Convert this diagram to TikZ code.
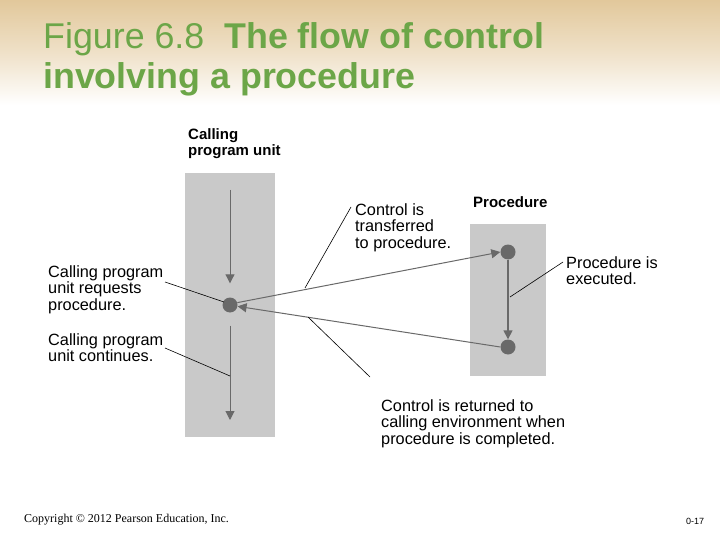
\documentclass[tikz,border=0pt]{standalone}
\usepackage{fontspec}
\setmainfont{Liberation Sans}
\newfontfamily\serifcopy{Liberation Serif}
\usetikzlibrary{arrows.meta}
\definecolor{hdrtan}{RGB}{226,200,155}
\definecolor{ttlgreen}{RGB}{108,166,72}
\definecolor{barg}{RGB}{201,201,201}
\definecolor{arrg}{RGB}{105,105,105}
\tikzset{
  lbl/.style={anchor=north west, inner sep=0pt, align=left, font=\fontsize{16.3}{16.5}\selectfont},
  hdr/.style={anchor=north west, inner sep=0pt, align=left, font=\bfseries\fontsize{15}{16}\selectfont},
  bar/.style={fill=barg, draw=none},
  dot/.style={circle, fill=arrg, inner sep=0pt, minimum size=15pt},
  arr/.style={draw=arrg, line width=1pt, -{Triangle[width=9pt,length=9pt]}},
  leader/.style={draw=black, line width=0.6pt}
}
\begin{document}
\begin{tikzpicture}[x=1pt,y=-1pt]
\useasboundingbox (0,0) rectangle (720,540);
\fill[white] (0,0) rectangle (720,540);
\shade[top color=hdrtan, bottom color=white, middle color=hdrtan!55!white] (0,0) rectangle (720,105);
% title
\node[anchor=base west, inner sep=0pt, text=ttlgreen, font=\fontsize{35.8}{40}\selectfont, align=left] (title) at (43,89)
  {Figure 6.8\ \ \textbf{The flow of control}\\\textbf{involving a procedure}};
% bars
\fill[bar] (185,173) rectangle (275,437);
\fill[bar] (470,224) rectangle (546,376);
% headers
\node[hdr] (hcall) at (188,128) {Calling\\program unit};
\node[hdr] (hproc) at (473,196) {Procedure};
% dots
\node[dot] (L) at (230,305) {};
\node[dot] (P1) at (508,252) {};
\node[dot] (P2) at (508,347) {};
\coordinate (a1) at (230,190);
\coordinate (a2) at (230,420);
% arrows
\draw[arr, shorten >=14pt] (a1) -- (L);
\draw[arr, shorten <=13pt] (L) -- (a2);
\draw[arr, line width=1.6pt] (P1) -- (P2);
\draw[arr] (L.18) -- (P1.west);
\draw[arr] (P2.west) -- (L.-10);
% labels
\node[lbl] (t1) at (48,265) {Calling program\\unit requests\\procedure.};
\node[lbl] (t2) at (48,333) {Calling program\\unit continues.};
\node[lbl] (t3) at (355,203) {Control is\\transferred\\to procedure.};
\node[lbl] (t4) at (566,256) {Procedure is\\executed.};
\node[lbl] (t5) at (381,399) {Control is returned to\\calling environment when\\procedure is completed.};
% leader lines
\coordinate (l1a) at (165,282); \coordinate (l1b) at (224,302);
\coordinate (l2a) at (165,348); \coordinate (l2b) at (230,376);
\coordinate (l3a) at (351,207); \coordinate (l3b) at (305,288);
\coordinate (l4a) at (563,262); \coordinate (l4b) at (510,297);
\coordinate (l5a) at (370,377); \coordinate (l5b) at (308,317);
\draw[leader] (l1a) -- (l1b);
\draw[leader] (l2a) -- (l2b);
\draw[leader] (l3a) -- (l3b);
\draw[leader] (l4a) -- (l4b);
\draw[leader] (l5a) -- (l5b);
% footer
\node[anchor=base west, inner sep=0pt, font=\serifcopy\fontsize{12}{14}\selectfont] (copy) at (24,522) {Copyright \textcopyright{} 2012 Pearson Education, Inc.};
\node[anchor=base west, inner sep=0pt, font=\fontsize{9}{10}\selectfont] (pg) at (686,524) {0-17};
\end{tikzpicture}
\end{document}
